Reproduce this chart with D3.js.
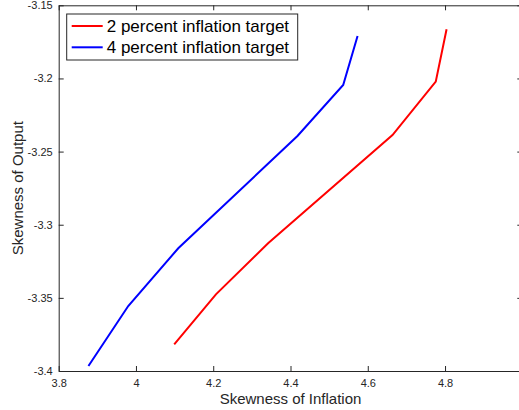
<!DOCTYPE html>
<html>
<head>
<meta charset="utf-8">
<script src="https://cdn.jsdelivr.net/npm/d3@7"></script>
<style>
  body { margin: 0; background: #fff; }
  svg { display: block; font-family: "Liberation Sans", Arial, sans-serif; }
  .axis path, .axis line { stroke: #262626; }
  .axis text { fill: #262626; font-size: 11px; }
</style>
</head>
<body>
<svg id="chart"></svg>
<script>
// Series
const seriesNames = ['2 percent inflation target', '4 percent inflation target'];
const seriesColors = ['#ff0000', '#0000ff'];

const inflation2 = [4.099, 4.207, 4.342, 4.664, 4.776, 4.804];
const output2    = [-3.3818, -3.3476, -3.3127, -3.2387, -3.2022, -3.1664];

const inflation4 = [3.877, 3.980, 4.1095, 4.418, 4.5364, 4.5736];
const output4    = [-3.3966, -3.3556, -3.3161, -3.2393, -3.2045, -3.171];

const xTicks = [3.8, 4, 4.2, 4.4, 4.6, 4.8, 5];
const yTicks = [-3.4, -3.35, -3.3, -3.25, -3.2, -3.15];

const containerWidth = 519, containerHeight = 410;
const margin = {top: 5.3, left: 58.7};
const width = 463.6, height = 365.7;

const svg = d3.select('#chart')
    .attr('width', containerWidth)
    .attr('height', containerHeight);

const chart = svg.append('g')
    .attr('transform', `translate(${margin.left},${margin.top})`);

const xScale = d3.scaleLinear().domain([3.8, 5]).range([0, width]);
const yScale = d3.scaleLinear().domain([-3.4, -3.15]).range([height, 0]);

const fmt = d => String(+d.toFixed(2));

// Bottom and left axes with ticks pointing inward (MATLAB style)
const xAxis = d3.axisBottom(xScale).tickValues(xTicks).tickSize(-5).tickSizeOuter(0)
    .tickPadding(8).tickFormat(fmt);
const yAxis = d3.axisLeft(yScale).tickValues(yTicks).tickSize(-5).tickSizeOuter(0)
    .tickPadding(6).tickFormat(fmt);

chart.append('g')
    .attr('class', 'axis x-axis')
    .attr('transform', `translate(0,${height})`)
    .call(xAxis);

chart.append('g')
    .attr('class', 'axis y-axis')
    .call(yAxis);

// Top and right box edges with inward ticks, no labels
chart.append('g')
    .attr('class', 'axis')
    .call(d3.axisTop(xScale).tickValues(xTicks).tickSize(-5).tickSizeOuter(0).tickFormat(''));
chart.append('g')
    .attr('class', 'axis')
    .attr('transform', `translate(${width},0)`)
    .call(d3.axisRight(yScale).tickValues(yTicks).tickSize(-5).tickSizeOuter(0).tickFormat(''));

// Lines
const series = [
  {name: seriesNames[0], color: seriesColors[0], xs: inflation2, ys: output2},
  {name: seriesNames[1], color: seriesColors[1], xs: inflation4, ys: output4}
];

const line = d3.line()
    .x(d => xScale(d[0]))
    .y(d => yScale(d[1]));

chart.selectAll('.series')
  .data(series)
  .join('path')
    .attr('class', 'series')
    .attr('fill', 'none')
    .attr('stroke', d => d.color)
    .attr('stroke-width', 2)
    .attr('d', d => line(d.xs.map((x, i) => [x, d.ys[i]])));

// Axis titles
svg.append('text')
    .attr('x', margin.left + xScale(4.4))
    .attr('y', 404)
    .attr('text-anchor', 'middle')
    .attr('fill', '#262626')
    .style('font-size', '15px')
    .text('Skewness of Inflation');

svg.append('text')
    .attr('transform', `translate(23,${margin.top + height / 2}) rotate(-90)`)
    .attr('text-anchor', 'middle')
    .attr('fill', '#262626')
    .style('font-size', '15px')
    .text('Skewness of Output');

// Legend
const legend = svg.append('g').attr('transform', 'translate(66.7,14)');
legend.append('rect')
    .attr('width', 231)
    .attr('height', 46)
    .attr('fill', '#fff')
    .attr('stroke', '#262626')
    .attr('stroke-width', 1);

const items = legend.selectAll('.item')
  .data(series)
  .join('g')
    .attr('class', 'item')
    .attr('transform', (d, i) => `translate(0,${12 + i * 21.3})`);

items.append('line')
    .attr('x1', 5).attr('x2', 36)
    .attr('stroke', d => d.color)
    .attr('stroke-width', 2);

items.append('text')
    .attr('x', 40)
    .attr('dy', '0.35em')
    .attr('fill', '#000')
    .style('font-size', '17px')
    .text(d => d.name);
</script>
</body>
</html>
